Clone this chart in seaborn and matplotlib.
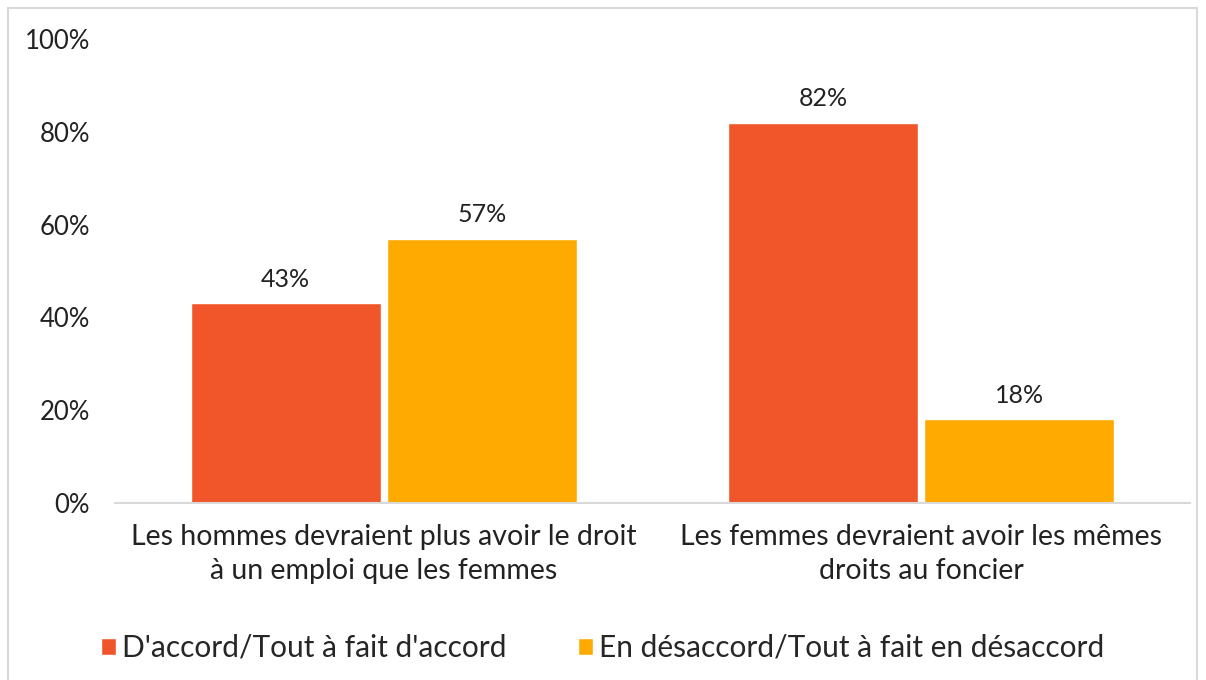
import matplotlib
matplotlib.use("Agg")
import matplotlib.pyplot as plt
import pandas as pd
import seaborn as sns
from matplotlib.patches import Rectangle
from matplotlib.ticker import PercentFormatter

categories = [
    "Les hommes devraient plus avoir le droit\nà un emploi que les femmes",
    "Les femmes devraient avoir les mêmes\ndroits au foncier",
]
series = ["D'accord/Tout à fait d'accord", "En désaccord/Tout à fait en désaccord"]
agree = [43, 82]
disagree = [57, 18]
colors = ["#F1562A", "#FFAA00"]

df = pd.DataFrame({
    "question": categories * 2,
    "answer": [series[0]] * 2 + [series[1]] * 2,
    "pct": agree + disagree,
})

sns.set_style("white")
plt.rcParams["font.family"] = ["Lato", "DejaVu Sans"]

W, H = 1206, 680
fig = plt.figure(figsize=(W / 100, H / 100), dpi=100)
ax = fig.add_axes([115 / W, 1 - 503 / H, 1075 / W, 464 / H])

sns.barplot(data=df, x="question", y="pct", hue="answer", palette=colors,
            width=0.73, gap=0.03, saturation=1, ax=ax)

for cont in ax.containers:
    ax.bar_label(cont, fmt="%g%%", padding=9, fontsize=18, color="#222222")

ax.set_ylim(0, 100)
ax.set_yticks(range(0, 101, 20))
ax.yaxis.set_major_formatter(PercentFormatter(decimals=0))
ax.set_xlabel("")
ax.set_ylabel("")
ax.tick_params(axis="both", colors="#222222", length=0)
ax.tick_params(axis="y", labelsize=18.5, pad=18)
ax.tick_params(axis="x", labelsize=20.5, pad=15)
for lbl in ax.get_xticklabels():
    lbl.set_linespacing(1.4)
for s in ["top", "right", "left"]:
    ax.spines[s].set_visible(False)
ax.spines["bottom"].set_color("#D9D9D9")
ax.spines["bottom"].set_linewidth(1.5)

ax.legend(loc="center", bbox_to_anchor=(0.5, 1 - 648 / H), bbox_transform=fig.transFigure,
          ncol=2, frameon=False, fontsize=21.5, handlelength=0.5, handleheight=0.5,
          handletextpad=0.2, columnspacing=2.4)

fig.patches.append(Rectangle((8 / W, -0.01), 1189 / W, 1 - 8 / H + 0.01,
                             transform=fig.transFigure, fill=False,
                             edgecolor="#D9D9D9", linewidth=1.5))

fig.savefig("out.png", dpi=100)
